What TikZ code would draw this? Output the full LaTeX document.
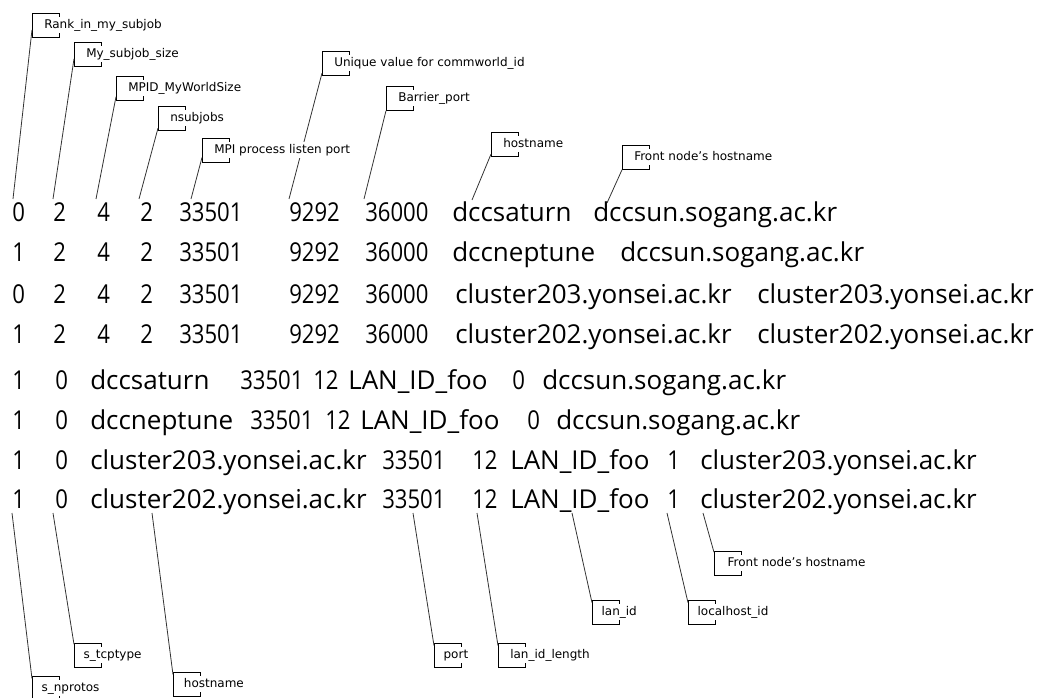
\documentclass[tikz,border=0pt]{standalone}
\usepackage{fontspec}
\usetikzlibrary{positioning}
\newfontfamily\rowfont{Open Sans}
\newfontfamily\numfont[FakeStretch=0.85]{Open Sans}
\newfontfamily\tagfont{DejaVu Sans}

\begin{document}
\begin{tikzpicture}[x=0.75pt,y=-0.75pt,
  tok/.style={anchor=base west,inner sep=0pt,font=\rowfont\fontsize{19.5pt}{22pt}\selectfont},
  num/.style={tok,font=\numfont\fontsize{19.5pt}{22pt}\selectfont},
  cbox/.style={draw,anchor=north west,minimum width=20pt,minimum height=18pt,inner sep=0pt,line width=0.6pt},
  clabel/.style={fill=white,inner xsep=1pt,inner ysep=1.5pt,text height=7pt,text depth=2pt,font=\tagfont\fontsize{9pt}{10pt}\selectfont},
  lead/.style={draw=black!80,line width=0.6pt}]
\useasboundingbox (0,0) rectangle (1042,698);

% callouts above the table
\node[cbox] (rankbox) at (32,13) {};
\node[cbox] (sizebox) at (74,42) {};
\node[cbox] (worldbox) at (116,76) {};
\node[cbox] (nsubbox) at (158,106) {};
\node[cbox] (listenbox) at (202,138) {};
\node[cbox] (commbox) at (322,51) {};
\node[cbox] (barrierbox) at (386,86) {};
\node[cbox] (hostbox) at (491,132) {};
\node[cbox] (frontbox) at (622,145) {};
\coordinate (ranktip) at (13,199);
\coordinate (sizetip) at (53,199);
\coordinate (worldtip) at (96,199);
\coordinate (nsubtip) at (139,199);
\coordinate (listentip) at (191,199);
\coordinate (commtip) at (289,199);
\coordinate (barriertip) at (364,199);
\coordinate (hosttip) at (472,200);
\coordinate (fronttip) at (607,203);
\draw[lead] (ranktip) -- ([yshift=6pt]rankbox.south west);
\draw[lead] (sizetip) -- ([yshift=6pt]sizebox.south west);
\draw[lead] (worldtip) -- ([yshift=3pt]worldbox.south west);
\draw[lead] (nsubtip) -- ([yshift=2pt]nsubbox.south west);
\draw[lead] (listentip) -- ([yshift=4pt]listenbox.south west);
\draw[lead] (commtip) -- ([yshift=2pt]commbox.south west);
\draw[lead] (barriertip) -- (barrierbox.south west);
\draw[lead] (hosttip) -- ([yshift=2pt]hostbox.south west);
\draw[lead] (fronttip) -- (frontbox.south west);

% callouts below the table
\node[cbox] (nprotosbox) at (32,676) {};
\node[cbox] (tcpbox) at (74,643) {};
\node[cbox] (hostnamebox) at (173,672) {};
\node[cbox] (portbox) at (434,643) {};
\node[cbox] (lenbox) at (498,643) {};
\node[cbox] (lanbox) at (592,600) {};
\node[cbox] (localbox) at (688,600) {};
\node[cbox] (frontnodebox) at (714,551) {};
\coordinate (nprotostip) at (12,513);
\coordinate (tcptip) at (53,513);
\coordinate (hostnametip) at (152,513);
\coordinate (porttip) at (413,513);
\coordinate (lentip) at (477,513);
\coordinate (lantip) at (572,513);
\coordinate (localtip) at (667,513);
\coordinate (frontnodetip) at (703,513);
\draw[lead] (nprotostip) -- ([yshift=-2pt]nprotosbox.north west);
\draw[lead] (tcptip) -- ([yshift=-1pt]tcpbox.north west);
\draw[lead] (hostnametip) -- ([yshift=-2pt]hostnamebox.north west);
\draw[lead] (porttip) -- ([yshift=-2pt]portbox.north west);
\draw[lead] (lentip) -- ([yshift=-2pt]lenbox.north west);
\draw[lead] (lantip) -- ([yshift=-2pt]lanbox.north west);
\draw[lead] (localtip) -- ([yshift=-2pt]localbox.north west);
\draw[lead] (frontnodetip) -- ([yshift=-1pt]frontnodebox.north west);

% labels
\node[clabel,right=8pt of rankbox.west] (rank) {Rank\_in\_my\_subjob};
\node[clabel,right=8pt of sizebox.west] (size) {My\_subjob\_size};
\node[clabel,right=8pt of worldbox.west] (world) {MPID\_MyWorldSize};
\node[clabel,right=8pt of nsubbox.west] (nsub) {nsubjobs};
\node[clabel,right=8pt of listenbox.west] (listen) {MPI process listen port};
\node[clabel,right=8pt of commbox.west] (comm) {Unique value for commworld\_id};
\node[clabel,right=8pt of barrierbox.west] (barrier) {Barrier\_port};
\node[clabel,right=8pt of hostbox.west] (host) {hostname};
\node[clabel,right=8pt of frontbox.west] (front) {Front node’s hostname};
\node[clabel,right=6pt of nprotosbox.west] (nprotos) {s\_nprotos};
\node[clabel,right=6pt of tcpbox.west] (tcp) {s\_tcptype};
\node[clabel,right=7pt of hostnamebox.west] (hostname) {hostname};
\node[clabel,right=6pt of portbox.west] (port) {port};
\node[clabel,right=8pt of lenbox.west] (len) {lan\_id\_length};
\node[clabel,right=6pt of lanbox.west] (lan) {lan\_id};
\node[clabel,right=6pt of localbox.west] (local) {localhost\_id};
\node[clabel,right=9pt of frontnodebox.west] (frontnode) {Front node’s hostname};

% rows
\foreach \yy/\rk [count=\i] in {222/0,262/1,304/0,344/1}{
  \node[num] (r\i-a) at (12,\yy) {\rk};
  \node[num] (r\i-b) at (53,\yy) {2};
  \node[num] (r\i-c) at (97,\yy) {4};
  \node[num] (r\i-d) at (140,\yy) {2};
  \node[num] (r\i-e) at (179,\yy) {33501};
  \node[num] (r\i-f) at (289,\yy) {9292};
  \node[num] (r\i-g) at (365,\yy) {36000};
}
\node[tok] (r1-h) at (452,222) {dccsaturn};
\node[tok] (r1-i) at (593,222) {dccsun.sogang.ac.kr};
\node[tok] (r2-h) at (452,262) {dccneptune};
\node[tok] (r2-i) at (620,262) {dccsun.sogang.ac.kr};
\node[tok] (r3-h) at (455,304) {cluster203.yonsei.ac.kr};
\node[tok] (r3-i) at (757,304) {cluster203.yonsei.ac.kr};
\node[tok] (r4-h) at (455,344) {cluster202.yonsei.ac.kr};
\node[tok] (r4-i) at (757,344) {cluster202.yonsei.ac.kr};

\foreach \yy [count=\i from 5] in {390,430,469,508}{
  \node[num] (r\i-a) at (12,\yy) {1};
  \node[num] (r\i-b) at (55,\yy) {0};
}
\node[tok] (r5-c) at (90,390) {dccsaturn};
\node[num] (r5-d) at (240,390) {33501};
\node[num] (r5-e) at (313,390) {12};
\node[tok] (r5-f) at (348,390) {LAN\_ID\_foo};
\node[num] (r5-g) at (512,390) {0};
\node[tok] (r5-h) at (542,390) {dccsun.sogang.ac.kr};
\node[tok] (r6-c) at (90,430) {dccneptune};
\node[num] (r6-d) at (250,430) {33501};
\node[num] (r6-e) at (325,430) {12};
\node[tok] (r6-f) at (360,430) {LAN\_ID\_foo};
\node[num] (r6-g) at (527,430) {0};
\node[tok] (r6-h) at (556,430) {dccsun.sogang.ac.kr};
\node[tok] (r7-c) at (90,469) {cluster203.yonsei.ac.kr};
\node[num] (r7-d) at (382,469) {33501};
\node[num] (r7-e) at (472,469) {12};
\node[tok] (r7-f) at (510,469) {LAN\_ID\_foo};
\node[num] (r7-g) at (667,469) {1};
\node[tok] (r7-h) at (700,469) {cluster203.yonsei.ac.kr};
\node[tok] (r8-c) at (90,508) {cluster202.yonsei.ac.kr};
\node[num] (r8-d) at (382,508) {33501};
\node[num] (r8-e) at (472,508) {12};
\node[tok] (r8-f) at (510,508) {LAN\_ID\_foo};
\node[num] (r8-g) at (667,508) {1};
\node[tok] (r8-h) at (700,508) {cluster202.yonsei.ac.kr};
\end{tikzpicture}
\end{document}
